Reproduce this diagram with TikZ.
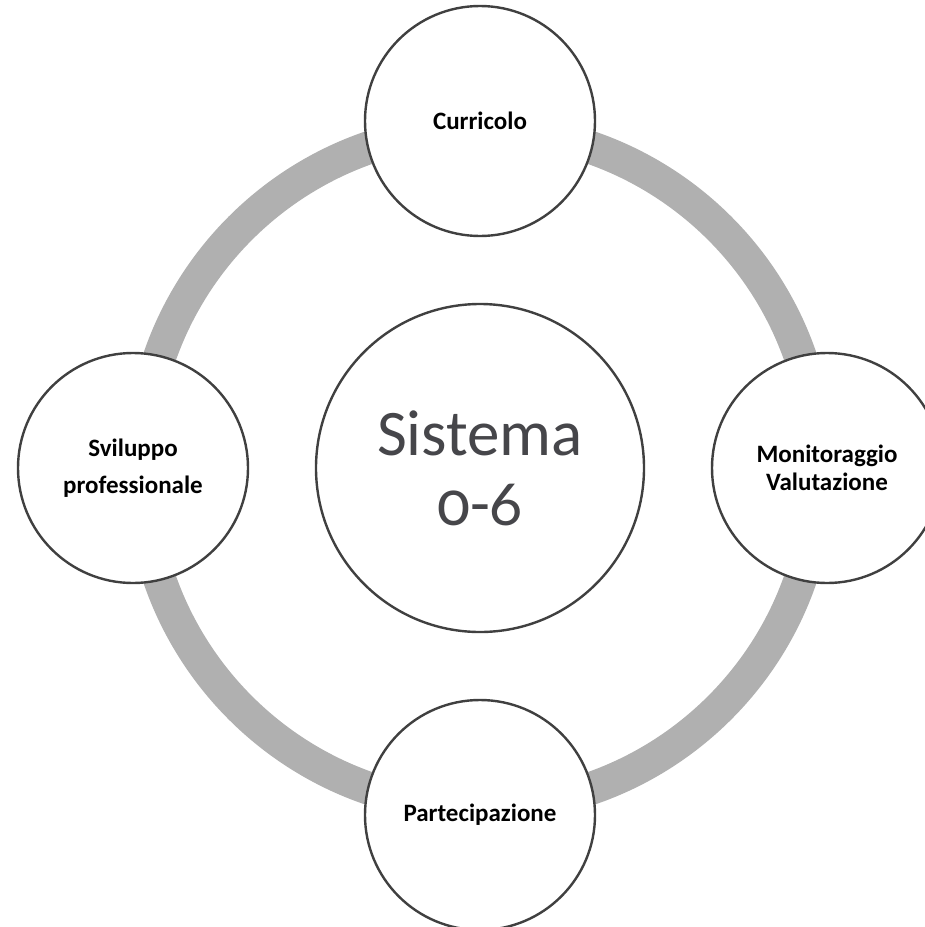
\documentclass[tikz,border=0pt]{standalone}
\usepackage{fontspec}
\setmainfont{Carlito}[Numbers=OldStyle]
\definecolor{ringgray}{RGB}{176,176,176}
\definecolor{edgegray}{RGB}{64,64,64}
\definecolor{centertext}{RGB}{70,70,74}
\begin{document}
\begin{tikzpicture}[x=1bp,y=-1bp,
  small/.style={circle,draw=edgegray,line width=2.4bp,fill=white,minimum size=230bp,inner sep=0pt,
    align=center,font=\fontsize{25bp}{28bp}\selectfont\bfseries,text=black},
  big/.style={circle,draw=edgegray,line width=2.4bp,fill=white,minimum size=328bp,inner sep=0pt,
    align=center,font=\fontsize{65bp}{70bp}\selectfont,text=centertext}]
\useasboundingbox (0,0) rectangle (925,927);
\clip (0,0) rectangle (925,927);
\coordinate (o) at (480,468);
\draw[ringgray,line width=33bp] (o) circle[radius=339bp];
\node[big] (c) at (o) {Sistema\\0-6};
\node[small] (top) at (480,121) {Curricolo};
\node[small] (right) at (827,468) {Monitoraggio\\Valutazione};
\node[small] (bottom) at (480,815) {Partecipazione};
\node[small,font=\fontsize{25bp}{37bp}\selectfont\bfseries] (left) at (133,468) {Sviluppo\\professionale};
\end{tikzpicture}
\end{document}
